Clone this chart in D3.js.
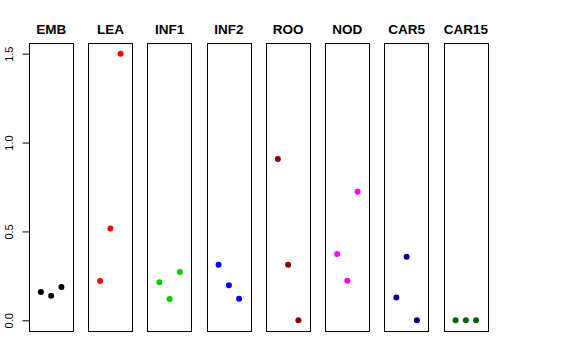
<!DOCTYPE html>
<html>
<head>
<meta charset="utf-8">
<script src="https://cdn.jsdelivr.net/npm/d3@7"></script>
<style>
html,body{margin:0;padding:0;background:#fff;}
svg{display:block;}
</style>
</head>
<body>
<svg id="chart" width="576" height="360"></svg>
<script>
const categories = ["EMB","LEA","INF1","INF2","ROO","NOD","CAR5","CAR15"];
const colors = ["#000000","#FF0000","#00CD00","#0000FF","#8B0000","#FF00FF","#000080","#006400"];
const EMB = [0.159, 0.138, 0.187];
const LEA = [0.221, 0.517, 1.5];
const INF1 = [0.214, 0.120, 0.272];
const INF2 = [0.313, 0.197, 0.122];
const ROO = [0.907, 0.313, 0.0];
const NOD = [0.373, 0.223, 0.723];
const CAR5 = [0.129, 0.358, 0.0];
const CAR15 = [0.0, 0.0, 0.0];
const yTicks = [0, 0.5, 1.0, 1.5];
const yTickLabels = ["0.0", "0.5", "1.0", "1.5"];

const series = [EMB, LEA, INF1, INF2, ROO, NOD, CAR5, CAR15];

const svg = d3.select("#chart");
const plotTop = 43, plotBottom = 331;

const panel = d3.scaleBand().domain(categories).range([29, 488]).paddingInner(0.252).paddingOuter(0);
const y = d3.scaleLinear().domain([-0.06, 1.56]).range([plotBottom, plotTop]);

categories.forEach((cat, i) => {
  const x0 = panel(cat);
  const w = panel.bandwidth();
  const x = d3.scaleLinear().domain([-0.16, 4.16]).range([x0, x0 + w]);
  const g = svg.append("g");
  g.append("rect")
    .attr("x", Math.round(x0) + 0.5)
    .attr("y", Math.round(plotTop) + 0.5)
    .attr("width", Math.round(w))
    .attr("height", Math.round(plotBottom - plotTop))
    .attr("fill", "none")
    .attr("stroke", "#000")
    .attr("stroke-width", 1);
  g.selectAll("circle").data(series[i]).join("circle")
    .attr("cx", (d, j) => x(j + 1))
    .attr("cy", d => y(d))
    .attr("r", 3)
    .attr("fill", colors[i]);
  g.append("text")
    .attr("x", x0 + w / 2)
    .attr("y", 34.3)
    .attr("text-anchor", "middle")
    .attr("font-family", "Liberation Sans, Arial, sans-serif")
    .attr("font-weight", "bold")
    .attr("font-size", "13.5px")
    .text(cat);
});

// y axis on first panel
const ax = svg.append("g").attr("transform", `translate(${Math.round(panel(categories[0])) + 0.5},0)`);
const axis = d3.axisLeft(y).tickValues(yTicks).tickSize(7).tickFormat((d, i) => yTickLabels[i]);
ax.call(axis);
ax.select(".domain").attr("d", `M0,${y(0)}V${y(1.5)}`).attr("stroke", "#000");
ax.selectAll(".tick line").attr("stroke", "#000");
ax.selectAll(".tick text")
  .attr("transform", "rotate(-90)")
  .attr("x", 0)
  .attr("y", -16.5)
  .attr("dy", 0)
  .attr("text-anchor", "middle")
  .attr("font-family", "Liberation Sans, Arial, sans-serif")
  .attr("font-size", "11px")
  .attr("fill", "#000");
ax.attr("font-family", null).attr("font-size", null);
</script>
</body>
</html>
